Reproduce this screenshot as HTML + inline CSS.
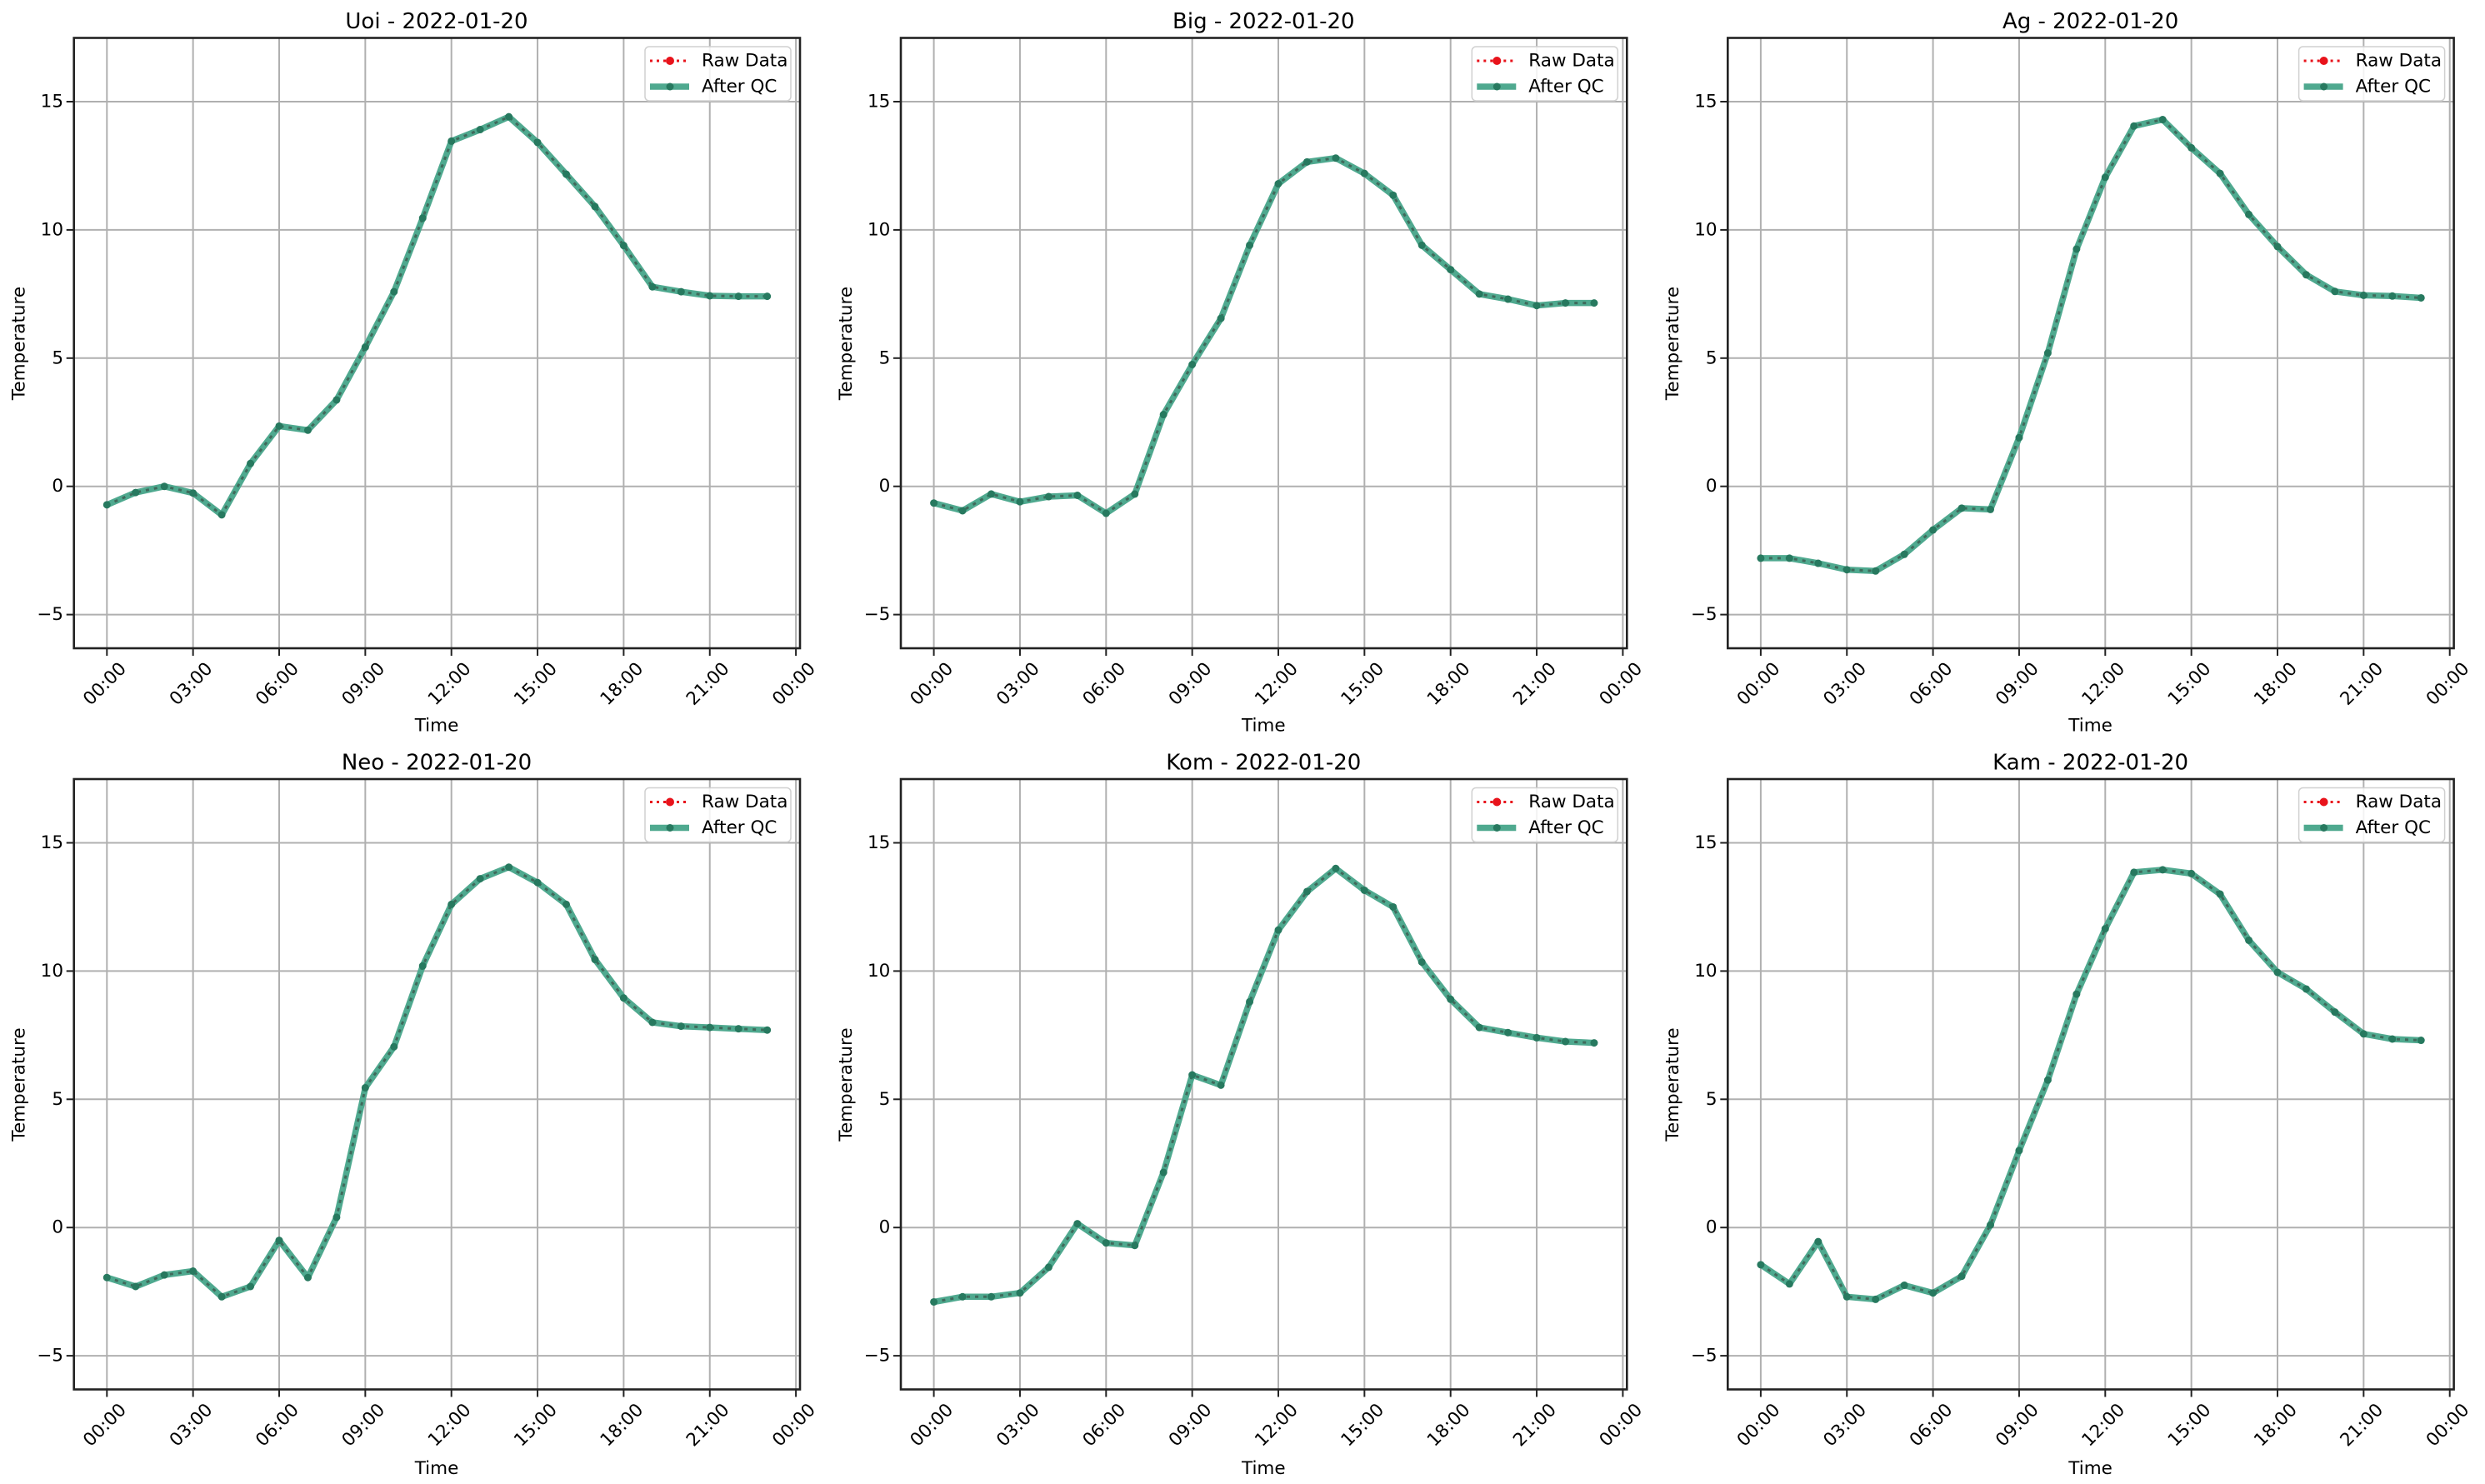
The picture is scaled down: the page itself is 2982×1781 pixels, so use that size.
<!DOCTYPE html>
<html><head><meta charset="utf-8"><style>
html,body{margin:0;padding:0;background:#fff;}
svg{display:block;}
text{font-family:"DejaVu Sans","Liberation Sans",sans-serif;fill:#000;}
.tt{font-size:26px;text-anchor:middle;}
.yt{font-size:21.5px;text-anchor:end;dominant-baseline:central;}
.xt{font-size:21.5px;text-anchor:middle;dominant-baseline:central;}
.al{font-size:21.5px;text-anchor:middle;dominant-baseline:central;}
.lg{font-size:21.5px;dominant-baseline:central;}
</style></head><body>
<svg id="s" width="2982" height="1781" viewBox="0 0 2982 1781" xmlns="http://www.w3.org/2000/svg">
<rect width="2982" height="1781" fill="#fff"/>
<g id="p0" transform="translate(0,0)"><text class="tt" x="524" y="34">Uoi - 2022-01-20</text></g>
<g id="p1" transform="translate(992.3,0)"><text class="tt" x="524" y="34">Big - 2022-01-20</text></g>
<g id="p2" transform="translate(1984.6,0)"><text class="tt" x="524" y="34">Ag - 2022-01-20</text></g>
<g id="p3" transform="translate(0,889.5)"><text class="tt" x="524" y="34">Neo - 2022-01-20</text></g>
<g id="p4" transform="translate(992.3,889.5)"><text class="tt" x="524" y="34">Kom - 2022-01-20</text></g>
<g id="p5" transform="translate(1984.6,889.5)"><text class="tt" x="524" y="34">Kam - 2022-01-20</text></g>
</svg>
<div id="txt" style="display:none">
<!-- static labels per panel -->
</div>
<script>
var NS="http://www.w3.org/2000/svg";
var data=[
[-0.72,-0.24,0,-0.26,-1.11,0.89,2.35,2.19,3.37,5.43,7.59,10.46,13.46,13.91,14.41,13.41,12.17,10.91,9.39,7.78,7.59,7.43,7.41,7.41],
[-0.65,-0.95,-0.3,-0.6,-0.4,-0.35,-1.05,-0.3,2.8,4.75,6.55,9.4,11.8,12.65,12.8,12.2,11.35,9.4,8.45,7.5,7.3,7.05,7.15,7.15],
[-2.8,-2.8,-3.0,-3.25,-3.3,-2.65,-1.7,-0.85,-0.9,1.9,5.2,9.25,12.05,14.05,14.3,13.2,12.2,10.6,9.35,8.25,7.6,7.45,7.42,7.35],
[-1.95,-2.3,-1.85,-1.7,-2.7,-2.3,-0.5,-1.95,0.4,5.45,7.05,10.2,12.6,13.6,14.05,13.45,12.6,10.45,8.95,8.0,7.85,7.8,7.75,7.7],
[-2.9,-2.7,-2.7,-2.55,-1.55,0.15,-0.6,-0.7,2.15,5.95,5.55,8.8,11.6,13.1,14.0,13.15,12.5,10.35,8.9,7.8,7.6,7.4,7.25,7.2],
[-1.45,-2.2,-0.55,-2.7,-2.8,-2.25,-2.55,-1.9,0.1,3.0,5.75,9.1,11.65,13.85,13.95,13.8,13.0,11.2,9.95,9.3,8.4,7.55,7.35,7.3]];
var L=88.7,R=960,T=45.5,B=778;
function X(h){return 128.3+h*34.45;}
function Y(v){return 583.7-30.78*v;}
function el(p,tag,a){var e=document.createElementNS(NS,tag);for(var k in a)e.setAttribute(k,a[k]);p.appendChild(e);return e;}
for(var i=0;i<6;i++){
 var g=document.getElementById("p"+i);
 var first=g.firstChild;
 var geo=document.createElementNS(NS,"g");g.insertBefore(geo,first);
 for(var h=0;h<=24;h+=3){var x=X(h);
  el(geo,"line",{x1:x,x2:x,y1:T,y2:B,stroke:"#b0b0b0","stroke-width":2});
  el(geo,"line",{x1:x,x2:x,y1:B,y2:B+9,stroke:"#222","stroke-width":2});}
 for(var v=-5;v<=15;v+=5){var y=Y(v);
  el(geo,"line",{x1:L,x2:R,y1:y,y2:y,stroke:"#b0b0b0","stroke-width":2});
  el(geo,"line",{x1:L-9,x2:L,y1:y,y2:y,stroke:"#222","stroke-width":2});}
 var d=data[i],pts=d.map(function(v,k){return X(k).toFixed(1)+","+Y(v).toFixed(1);}).join(" ");
 el(geo,"polyline",{points:pts,fill:"none",stroke:"#4fa98f","stroke-width":7.5,"stroke-linejoin":"round"});
 el(geo,"polyline",{points:pts,fill:"none",stroke:"#3f6a5b","stroke-width":3,"stroke-dasharray":"4 6"});
 d.forEach(function(v,k){el(geo,"circle",{cx:X(k),cy:Y(v),r:4.5,fill:"#27795f"});});
 el(geo,"rect",{x:L,y:T,width:R-L,height:B-T,fill:"none",stroke:"#222","stroke-width":2.6});
 // legend
 el(geo,"rect",{x:774,y:56,width:175,height:65,rx:5,fill:"#fff","fill-opacity":0.85,stroke:"#d0d0d0","stroke-width":1.5});
 el(geo,"line",{x1:780,x2:827,y1:73,y2:73,stroke:"#e8131b","stroke-width":3,"stroke-dasharray":"3 5"});
 el(geo,"circle",{cx:804,cy:73,r:5,fill:"#e8131b"});
 el(geo,"line",{x1:780,x2:827,y1:104,y2:104,stroke:"#4fa98f","stroke-width":7.5});
 el(geo,"circle",{cx:804,cy:104,r:4.5,fill:"#27795f"});
 // labels
 var lab=document.getElementById("lab"+i);
 if(lab){while(lab.firstChild)g.appendChild(lab.firstChild);}
}
</script>
<svg width="0" height="0" style="position:absolute">
<g id="lab0"><text class="yt" x="76" y="737.6">−5</text><text class="yt" x="76" y="583.7">0</text><text class="yt" x="76" y="429.8">5</text><text class="yt" x="76" y="275.9">10</text><text class="yt" x="76" y="122">15</text>
<text class="xt" transform="translate(126,821) rotate(-45)">00:00</text><text class="xt" transform="translate(229.6,821) rotate(-45)">03:00</text><text class="xt" transform="translate(333,821) rotate(-45)">06:00</text><text class="xt" transform="translate(436.3,821) rotate(-45)">09:00</text><text class="xt" transform="translate(539.7,821) rotate(-45)">12:00</text><text class="xt" transform="translate(643,821) rotate(-45)">15:00</text><text class="xt" transform="translate(746.4,821) rotate(-45)">18:00</text><text class="xt" transform="translate(849.7,821) rotate(-45)">21:00</text><text class="xt" transform="translate(953,821) rotate(-45)">00:00</text>
<text class="al" x="524" y="871">Time</text><text class="al" transform="translate(23,412) rotate(-90)">Temperature</text>
<text class="lg" x="842" y="73">Raw Data</text><text class="lg" x="842" y="104">After QC</text></g>
<g id="lab1"><text class="yt" x="76" y="737.6">−5</text><text class="yt" x="76" y="583.7">0</text><text class="yt" x="76" y="429.8">5</text><text class="yt" x="76" y="275.9">10</text><text class="yt" x="76" y="122">15</text>
<text class="xt" transform="translate(126,821) rotate(-45)">00:00</text><text class="xt" transform="translate(229.6,821) rotate(-45)">03:00</text><text class="xt" transform="translate(333,821) rotate(-45)">06:00</text><text class="xt" transform="translate(436.3,821) rotate(-45)">09:00</text><text class="xt" transform="translate(539.7,821) rotate(-45)">12:00</text><text class="xt" transform="translate(643,821) rotate(-45)">15:00</text><text class="xt" transform="translate(746.4,821) rotate(-45)">18:00</text><text class="xt" transform="translate(849.7,821) rotate(-45)">21:00</text><text class="xt" transform="translate(953,821) rotate(-45)">00:00</text>
<text class="al" x="524" y="871">Time</text><text class="al" transform="translate(23,412) rotate(-90)">Temperature</text>
<text class="lg" x="842" y="73">Raw Data</text><text class="lg" x="842" y="104">After QC</text></g>
<g id="lab2"><text class="yt" x="76" y="737.6">−5</text><text class="yt" x="76" y="583.7">0</text><text class="yt" x="76" y="429.8">5</text><text class="yt" x="76" y="275.9">10</text><text class="yt" x="76" y="122">15</text>
<text class="xt" transform="translate(126,821) rotate(-45)">00:00</text><text class="xt" transform="translate(229.6,821) rotate(-45)">03:00</text><text class="xt" transform="translate(333,821) rotate(-45)">06:00</text><text class="xt" transform="translate(436.3,821) rotate(-45)">09:00</text><text class="xt" transform="translate(539.7,821) rotate(-45)">12:00</text><text class="xt" transform="translate(643,821) rotate(-45)">15:00</text><text class="xt" transform="translate(746.4,821) rotate(-45)">18:00</text><text class="xt" transform="translate(849.7,821) rotate(-45)">21:00</text><text class="xt" transform="translate(953,821) rotate(-45)">00:00</text>
<text class="al" x="524" y="871">Time</text><text class="al" transform="translate(23,412) rotate(-90)">Temperature</text>
<text class="lg" x="842" y="73">Raw Data</text><text class="lg" x="842" y="104">After QC</text></g>
<g id="lab3"><text class="yt" x="76" y="737.6">−5</text><text class="yt" x="76" y="583.7">0</text><text class="yt" x="76" y="429.8">5</text><text class="yt" x="76" y="275.9">10</text><text class="yt" x="76" y="122">15</text>
<text class="xt" transform="translate(126,821) rotate(-45)">00:00</text><text class="xt" transform="translate(229.6,821) rotate(-45)">03:00</text><text class="xt" transform="translate(333,821) rotate(-45)">06:00</text><text class="xt" transform="translate(436.3,821) rotate(-45)">09:00</text><text class="xt" transform="translate(539.7,821) rotate(-45)">12:00</text><text class="xt" transform="translate(643,821) rotate(-45)">15:00</text><text class="xt" transform="translate(746.4,821) rotate(-45)">18:00</text><text class="xt" transform="translate(849.7,821) rotate(-45)">21:00</text><text class="xt" transform="translate(953,821) rotate(-45)">00:00</text>
<text class="al" x="524" y="873">Time</text><text class="al" transform="translate(23,412) rotate(-90)">Temperature</text>
<text class="lg" x="842" y="73">Raw Data</text><text class="lg" x="842" y="104">After QC</text></g>
<g id="lab4"><text class="yt" x="76" y="737.6">−5</text><text class="yt" x="76" y="583.7">0</text><text class="yt" x="76" y="429.8">5</text><text class="yt" x="76" y="275.9">10</text><text class="yt" x="76" y="122">15</text>
<text class="xt" transform="translate(126,821) rotate(-45)">00:00</text><text class="xt" transform="translate(229.6,821) rotate(-45)">03:00</text><text class="xt" transform="translate(333,821) rotate(-45)">06:00</text><text class="xt" transform="translate(436.3,821) rotate(-45)">09:00</text><text class="xt" transform="translate(539.7,821) rotate(-45)">12:00</text><text class="xt" transform="translate(643,821) rotate(-45)">15:00</text><text class="xt" transform="translate(746.4,821) rotate(-45)">18:00</text><text class="xt" transform="translate(849.7,821) rotate(-45)">21:00</text><text class="xt" transform="translate(953,821) rotate(-45)">00:00</text>
<text class="al" x="524" y="873">Time</text><text class="al" transform="translate(23,412) rotate(-90)">Temperature</text>
<text class="lg" x="842" y="73">Raw Data</text><text class="lg" x="842" y="104">After QC</text></g>
<g id="lab5"><text class="yt" x="76" y="737.6">−5</text><text class="yt" x="76" y="583.7">0</text><text class="yt" x="76" y="429.8">5</text><text class="yt" x="76" y="275.9">10</text><text class="yt" x="76" y="122">15</text>
<text class="xt" transform="translate(126,821) rotate(-45)">00:00</text><text class="xt" transform="translate(229.6,821) rotate(-45)">03:00</text><text class="xt" transform="translate(333,821) rotate(-45)">06:00</text><text class="xt" transform="translate(436.3,821) rotate(-45)">09:00</text><text class="xt" transform="translate(539.7,821) rotate(-45)">12:00</text><text class="xt" transform="translate(643,821) rotate(-45)">15:00</text><text class="xt" transform="translate(746.4,821) rotate(-45)">18:00</text><text class="xt" transform="translate(849.7,821) rotate(-45)">21:00</text><text class="xt" transform="translate(953,821) rotate(-45)">00:00</text>
<text class="al" x="524" y="873">Time</text><text class="al" transform="translate(23,412) rotate(-90)">Temperature</text>
<text class="lg" x="842" y="73">Raw Data</text><text class="lg" x="842" y="104">After QC</text></g>
</svg>
<script>
for(var i=0;i<6;i++){var g=document.getElementById("p"+i),lab=document.getElementById("lab"+i);while(lab.firstChild)g.appendChild(lab.firstChild);}
</script>
</body></html>
